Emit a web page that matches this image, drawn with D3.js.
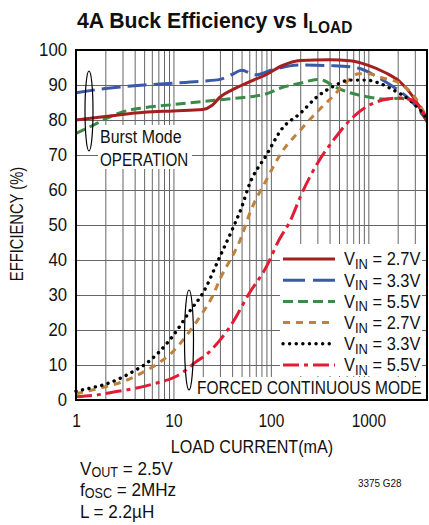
<!DOCTYPE html>
<html>
<head>
<meta charset="utf-8">
<script src="https://cdn.jsdelivr.net/npm/d3@7"></script>
<style>
  body { margin: 0; background: #fff; }
  text { font-family: "Liberation Sans", Arial, sans-serif; fill: #111; }
</style>
</head>
<body>
<svg id="chart" width="429" height="525"></svg>
<script>
// Load current (mA) vs efficiency (%) for each input voltage
const burst27 = [[1,80.0],[2,81.0],[3,81.6],[5,82.2],[10,82.6],[20,83.0],[25,84.2],[30,86.5],[40,88.6],[60,90.9],[90,93.0],[130,95.5],[200,97.0],[400,97.2],[650,96.9],[1000,95.6],[1500,93.5],[2100,91.0],[2900,86.5],[4000,79.5]];
const burst33 = [[1,87.8],[2,89.0],[5,90.0],[10,90.5],[20,91.1],[30,91.6],[40,93.0],[50,94.2],[70,92.9],[100,94.2],[200,95.7],[450,95.5],[800,94.8],[1200,92.5],[1800,89.5],[2700,85.7],[4000,79.8]];
const burst55 = [[1,76.2],[1.5,78.5],[2,80.3],[3,82.3],[5,83.5],[10,84.4],[20,85.3],[40,86.1],[90,87.5],[130,89.3],[200,90.5],[300,91.6],[350,91.3],[450,89.5],[650,87.8],[1000,86.6],[1500,86.0],[2100,86.2],[2900,85.3],[4000,80.5]];
const forced27 = [[1,1.8],[2,3.8],[3,5.2],[5,8.1],[7,10.5],[10,14.0],[15,20.0],[20,25.0],[25,29.5],[30,34.5],[50,46.7],[60,53.0],[90,62.9],[130,70.9],[200,77.1],[300,82.4],[430,86.7],[600,90.9],[800,93.2],[1000,93.2],[1400,92.0],[2100,90.5],[3000,86.5],[4000,80.5]];
const forced33 = [[1,2.5],[1.5,3.6],[2,4.5],[3,6.5],[4,8.4],[5,10.0],[7,13.5],[10,18.5],[15,25.7],[20,30.5],[30,41.0],[40,48.6],[50,55.0],[60,61.5],[90,70.0],[130,77.5],[200,81.9],[300,86.7],[430,89.5],[650,91.4],[950,91.4],[1300,90.5],[1800,88.6],[2500,86.2],[3400,82.9],[4000,80.5]];
const forced55 = [[1,0.9],[1.6,1.4],[2.6,2.4],[4,3.3],[6.6,4.8],[10.6,6.7],[13.5,8.6],[17,10.9],[21.6,12.9],[30,17.1],[40,21.9],[60,30.5],[90,38.1],[120,45.5],[160,51.5],[200,58.0],[300,67.6],[440,74.3],[650,80.0],[960,83.8],[1400,85.7],[2100,86.3],[2900,85.5],[4000,80.5]];

const legendLabels = ["2.7V", "3.3V", "5.5V", "2.7V", "3.3V", "5.5V"];
const xTickValues = [1, 10, 100, 1000];
const yTickValues = [0, 10, 20, 30, 40, 50, 60, 70, 80, 90, 100];

const svg = d3.select("#chart");
const plotLeft = 76, plotRight = 427, plotTop = 50, plotBottom = 400;

const x = d3.scaleLog().domain([1, 4000]).range([plotLeft, plotRight]);
const y = d3.scaleLinear().domain([0, 100]).range([plotBottom, plotTop]);

// Condensed lettering: squeeze a text horizontally about its anchor point
function condense(sel, k, ax) {
  sel.attr("transform", `translate(${ax},0) scale(${k},1) translate(${-ax},0)`);
  return sel;
}
const FS = 19;

// Grid lines: every 1..9 within each decade, every 10% vertically
const gridX = [];
[1, 10, 100, 1000].forEach(d => { for (let m = 1; m <= 9; m++) if (m * d <= 4000) gridX.push(m * d); });

const grid = svg.append("g");
grid.append("g").attr("transform", `translate(0,${plotBottom})`)
  .call(d3.axisBottom(x).tickValues(gridX).tickSize(-(plotBottom - plotTop)).tickFormat(""))
  .call(g => g.select(".domain").remove())
  .call(g => g.selectAll("line").attr("stroke", "#666").attr("stroke-width", 1));
grid.append("g").attr("transform", `translate(${plotLeft},0)`)
  .call(d3.axisLeft(y).tickValues(yTickValues).tickSize(-(plotRight - plotLeft)).tickFormat(""))
  .call(g => g.select(".domain").remove())
  .call(g => g.selectAll("line").attr("stroke", "#666").attr("stroke-width", 1));

// White panels behind annotations
svg.append("rect").attr("x", 98).attr("y", 125).attr("width", 94).attr("height", 44).attr("fill", "#fff");
svg.append("rect").attr("x", 280).attr("y", 244).attr("width", 142).attr("height", 132).attr("fill", "#fff");
svg.append("rect").attr("x", 190).attr("y", 377).attr("width", 232).attr("height", 22).attr("fill", "#fff");

// Axis tick labels
svg.append("g").attr("transform", `translate(0,${plotBottom})`)
  .call(d3.axisBottom(x).tickValues(xTickValues).tickSize(0).tickPadding(14).tickFormat(d3.format("d")))
  .call(g => g.select(".domain").remove())
  .call(g => g.selectAll("text").attr("font-size", 18).attr("font-family", null).attr("fill", "#111")
    .attr("transform", `scale(0.86,1)`));
svg.append("g").attr("transform", `translate(${plotLeft},0)`)
  .call(d3.axisLeft(y).tickValues(yTickValues).tickSize(0).tickPadding(0).tickFormat(d3.format("d")))
  .call(g => g.select(".domain").remove())
  .call(g => g.selectAll("text").attr("font-size", 18).attr("font-family", null).attr("fill", "#111")
    .attr("x", 0).attr("transform", `translate(-9,0) scale(0.93,1)`));

// Series
const series = [
  { data: burst55, color: "#3b8b48", dash: "10 5", width: 3 },
  { data: burst33, color: "#3a5aa8", dash: "19 7", width: 3 },
  { data: burst27, color: "#a3201f", dash: null, width: 3 },
  { data: forced27, color: "#c0803e", dash: "7 6", width: 3 },
  { data: forced33, color: "#000", dash: "0.1 6.5", width: 3.4, round: true },
  { data: forced55, color: "#e11d35", dash: "16 5 4 5", width: 3 }
];
const line = d3.line().x(d => x(d[0])).y(d => y(d[1])).curve(d3.curveMonotoneX);

const plot = svg.append("g");
series.forEach(s => {
  plot.append("path").datum(s.data)
    .attr("d", line)
    .attr("fill", "none")
    .attr("stroke", s.color)
    .attr("stroke-width", s.width)
    .attr("stroke-dasharray", s.dash)
    .attr("stroke-linecap", s.round ? "round" : "butt");
});

// Frame
svg.append("rect").attr("x", plotLeft).attr("y", plotTop).attr("width", plotRight - plotLeft).attr("height", plotBottom - plotTop)
  .attr("fill", "none").attr("stroke", "#000").attr("stroke-width", 2);

// Legend
const legendOrder = [2, 1, 0, 3, 4, 5];
legendOrder.forEach((si, i) => {
  const s = series[si];
  const cy = 259 + i * 21.2;
  svg.append("line").attr("x1", 283).attr("x2", 335).attr("y1", cy).attr("y2", cy)
    .attr("stroke", s.color).attr("stroke-width", s.width)
    .attr("stroke-dasharray", si === 1 ? "22 8" : s.dash)
    .attr("stroke-linecap", s.round ? "round" : "butt");
  const t = svg.append("text").attr("x", 344).attr("y", cy + 6.5).attr("font-size", FS);
  t.append("tspan").text("V");
  t.append("tspan").attr("dy", 3.5).attr("font-size", 15).text("IN");
  t.append("tspan").attr("dy", -3.5).text(" = " + legendLabels[i]);
  condense(t, 0.865, 344);
});

// Annotations
condense(svg.append("text").attr("x", 100).attr("y", 143).attr("font-size", FS).text("Burst Mode"), 0.84, 100);
condense(svg.append("text").attr("x", 100).attr("y", 166).attr("font-size", FS).text("OPERATION"), 0.8, 100);
condense(svg.append("text").attr("x", 197).attr("y", 394).attr("font-size", FS).text("FORCED CONTINUOUS MODE"), 0.815, 197);
svg.append("ellipse").attr("cx", 89).attr("cy", 111).attr("rx", 4).attr("ry", 40)
  .attr("fill", "none").attr("stroke", "#000").attr("stroke-width", 1.2);
svg.append("ellipse").attr("cx", 189).attr("cy", 340).attr("rx", 4.5).attr("ry", 50)
  .attr("fill", "none").attr("stroke", "#000").attr("stroke-width", 1.2);

// Title
const title = svg.append("text").attr("x", 77).attr("y", 28).attr("font-size", 22).attr("font-weight", "bold");
title.append("tspan").text("4A Buck Efficiency vs I");
title.append("tspan").attr("dy", 5).attr("font-size", 16).text("LOAD");
condense(title, 0.965, 77);

// Axis titles
condense(svg.append("text").attr("x", 252).attr("y", 453).attr("text-anchor", "middle").attr("font-size", FS)
  .text("LOAD CURRENT(mA)"), 0.85, 252);
svg.append("text").attr("transform", `translate(23,224) rotate(-90) scale(0.82,1)`).attr("text-anchor", "middle")
  .attr("font-size", 18).text("EFFICIENCY (%)");

// Operating conditions
const notes = [["V", "OUT", " = 2.5V", 475], ["f", "OSC", " = 2MHz", 496], ["L = 2.2µH", "", "", 518]];
notes.forEach(n => {
  const t = svg.append("text").attr("x", 80).attr("y", n[3]).attr("font-size", FS);
  t.append("tspan").text(n[0]);
  if (n[1]) {
    t.append("tspan").attr("dy", 2.5).attr("font-size", 14).text(n[1]);
    t.append("tspan").attr("dy", -2.5).text(n[2]);
  }
  condense(t, 0.9, 80);
});
condense(svg.append("text").attr("x", 358).attr("y", 487).attr("font-size", 11).text("3375 G28"), 0.9, 358);
</script>
</body>
</html>
